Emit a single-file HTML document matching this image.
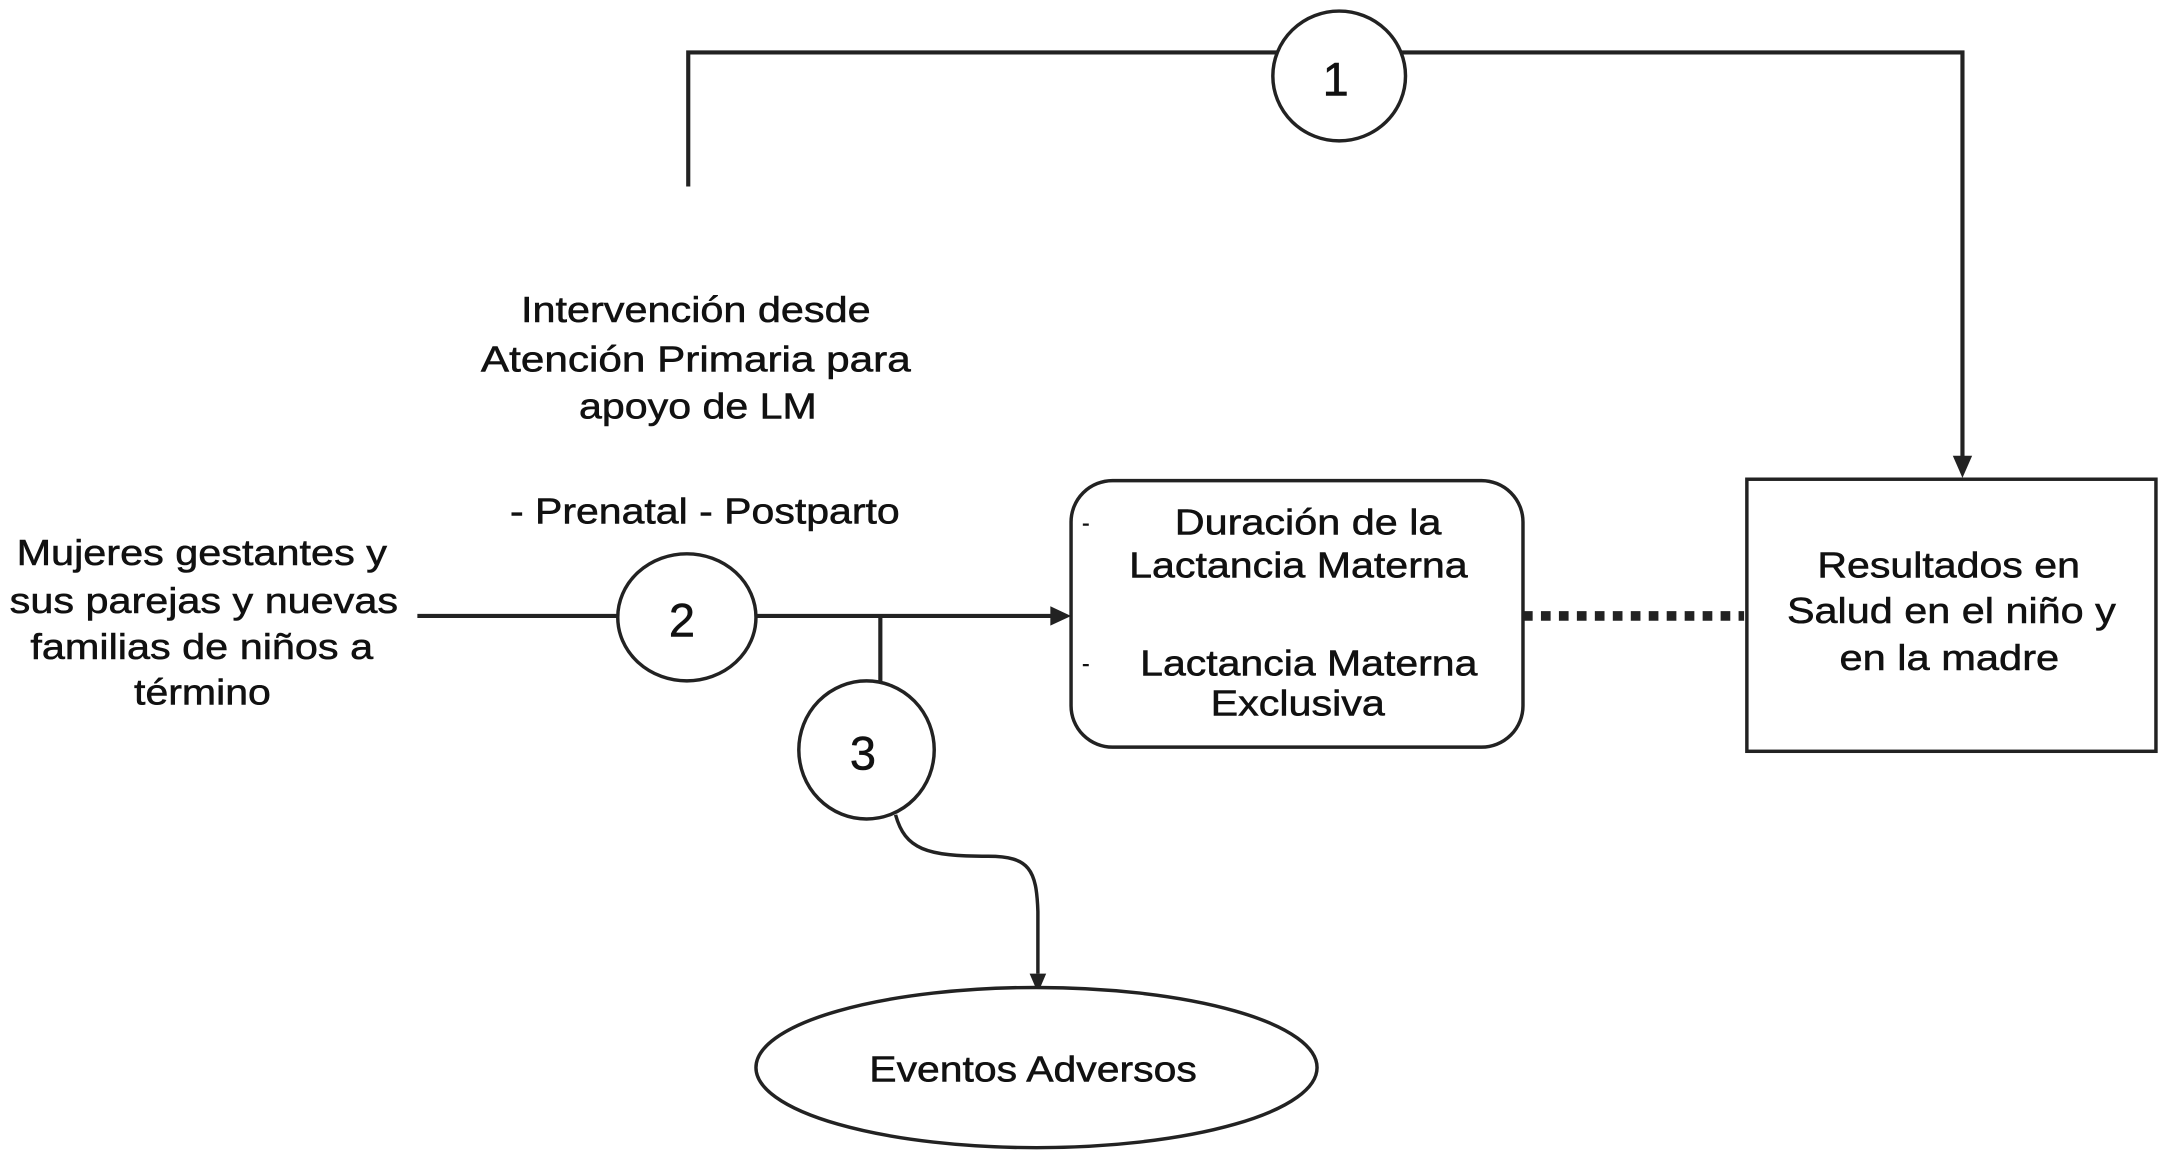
<!DOCTYPE html>
<html><head><meta charset="utf-8"><style>
html,body{margin:0;padding:0;background:#fff;}
svg{display:block;}
text{font-family:"Liberation Sans",Arial,sans-serif;font-size:26px;fill:#111;stroke:#111;stroke-width:0.4;}
</style></head><body>
<svg width="2167" height="1167" viewBox="0 0 1568 845" preserveAspectRatio="none">
<g stroke="#222" fill="none" stroke-width="3">
<polyline points="498,135 498,38 1420,38 1420,332"/>
<line x1="302" y1="446" x2="448" y2="446"/>
<line x1="547" y1="446" x2="762" y2="446"/>
<line x1="637" y1="446" x2="637" y2="494"/>
<path d="M648,590 C655,615 670,620 715,620 C745,620 750,630 751,660 L751,705" stroke-width="2.5"/>
<line x1="1102" y1="446" x2="1262" y2="446" stroke-width="7" stroke-dasharray="7,6"/>
</g>
<path d="M1413,330 L1427,330 L1420,346 z" fill="#222"/>
<path d="M760,439 L775,446 L760,453 z" fill="#222"/>
<path d="M745,705 L757,705 L751,719 z" fill="#222"/>
<g stroke="#222" stroke-width="2.5" fill="#fff">
<ellipse cx="969" cy="55" rx="48" ry="47"/>
<ellipse cx="497" cy="447" rx="50" ry="46"/>
<ellipse cx="627" cy="543" rx="49" ry="50"/>
<ellipse cx="750" cy="773" rx="203" ry="58"/>
<rect x="775" y="348" width="327" height="193" rx="30"/>
<rect x="1264" y="347" width="296" height="197"/>
</g>
<g lengthAdjust="spacingAndGlyphs">
<text x="957" y="69" style="font-size:34px">1</text>
<text x="484" y="461" style="font-size:34px">2</text>
<text x="615" y="557" style="font-size:34px">3</text>
<text x="377" y="233" textLength="253" lengthAdjust="spacingAndGlyphs">Intervención desde</text>
<text x="348" y="269" textLength="311" lengthAdjust="spacingAndGlyphs">Atención Primaria  para</text>
<text x="419" y="303" textLength="172" lengthAdjust="spacingAndGlyphs">apoyo de LM</text>
<text x="369" y="379" textLength="282" lengthAdjust="spacingAndGlyphs">- Prenatal - Postparto</text>
<text x="12" y="409" textLength="268" lengthAdjust="spacingAndGlyphs">Mujeres gestantes y</text>
<text x="7" y="444" textLength="281" lengthAdjust="spacingAndGlyphs">sus parejas y nuevas</text>
<text x="22" y="477" textLength="248" lengthAdjust="spacingAndGlyphs">familias de niños a</text>
<text x="97" y="510" textLength="99" lengthAdjust="spacingAndGlyphs">término</text>
<text x="850" y="387" textLength="193" lengthAdjust="spacingAndGlyphs">Duración de la</text>
<text x="817" y="418" textLength="245" lengthAdjust="spacingAndGlyphs">Lactancia Materna</text>
<text x="825" y="489" textLength="244" lengthAdjust="spacingAndGlyphs">Lactancia Materna</text>
<text x="876" y="518" textLength="126" lengthAdjust="spacingAndGlyphs">Exclusiva</text>
<text x="1315" y="418" textLength="190" lengthAdjust="spacingAndGlyphs">Resultados en</text>
<text x="1293" y="451" textLength="238" lengthAdjust="spacingAndGlyphs">Salud en el niño y</text>
<text x="1331" y="485" textLength="159" lengthAdjust="spacingAndGlyphs">en la madre</text>
<text x="629" y="783" textLength="237" lengthAdjust="spacingAndGlyphs">Eventos Adversos</text>
</g>
<text x="783" y="384" style="font-size:16px">-</text>
<text x="783" y="486" style="font-size:16px">-</text>
</svg>
</body></html>
